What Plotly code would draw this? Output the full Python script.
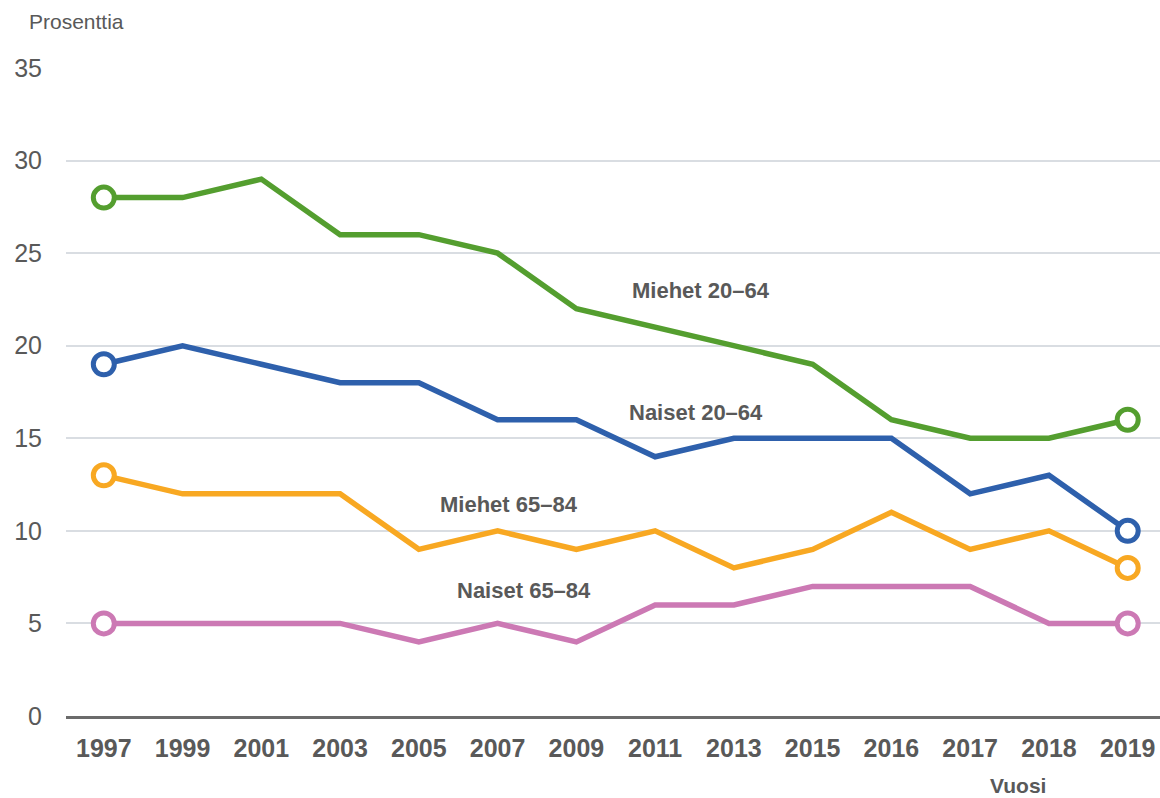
import plotly.graph_objects as go

# vuodet (kategoria-akseli)
years = ["1997", "1999", "2001", "2003", "2005", "2007", "2009",
         "2011", "2013", "2015", "2016", "2017", "2018", "2019"]

miehet_20_64 = [28, 28, 29, 26, 26, 25, 22, 21, 20, 19, 16, 15, 15, 16]
naiset_20_64 = [19, 20, 19, 18, 18, 16, 16, 14, 15, 15, 15, 12, 13, 10]
miehet_65_84 = [13, 12, 12, 12, 9, 10, 9, 10, 8, 9, 11, 9, 10, 8]
naiset_65_84 = [5, 5, 5, 5, 4, 5, 4, 6, 6, 7, 7, 7, 5, 5]

series = [
    ("Miehet 20–64", miehet_20_64, "rgb(84,158,47)"),
    ("Naiset 20–64", naiset_20_64, "rgb(46,96,172)"),
    ("Miehet 65–84", miehet_65_84, "rgb(248,168,34)"),
    ("Naiset 65–84", naiset_65_84, "rgb(204,121,180)"),
]

# label positions (category index, value)
labels = {
    "Miehet 20–64": (7.58, 23.0),
    "Naiset 20–64": (7.52, 16.4),
    "Miehet 65–84": (5.15, 11.45),
    "Naiset 65–84": (5.33, 6.8),
}

FONT = "Liberation Sans, Arial"
GREY = "#595959"

W, H = 1160, 798
ml, mr, mt, mb = 66, 0, 68, 82

idx = list(range(len(years)))
fig = go.Figure()

for name, vals, color in series:
    fig.add_trace(go.Scatter(
        x=idx, y=vals, mode="lines", name=name,
        line=dict(color=color, width=5.5),
        showlegend=False, hoverinfo="skip",
    ))

# avoimet ympyrät ensimmäiselle ja viimeiselle vuodelle
for name, vals, color in series:
    fig.add_trace(go.Scatter(
        x=[idx[0], idx[-1]], y=[vals[0], vals[-1]], mode="markers",
        marker=dict(size=21, color="white", line=dict(color=color, width=5)),
        showlegend=False, hoverinfo="skip",
    ))

for name, (lx, ly) in labels.items():
    fig.add_annotation(
        x=lx, y=ly, xref="x", yref="y", text=name, showarrow=False,
        font=dict(family=FONT, size=22, color=GREY, weight="bold"),
    )

def px_to_paper(px, py):
    return (px - ml) / (W - ml - mr), 1 - (py - mt) / (H - mt - mb)

x0, y0 = px_to_paper(27, 22)
fig.add_annotation(x=x0, y=y0, xref="paper", yref="paper", text="Prosenttia",
                   showarrow=False, xanchor="left", yanchor="middle",
                   font=dict(family=FONT, size=21, color=GREY))
x1, y1 = px_to_paper(1018, 785)
fig.add_annotation(x=x1, y=y1, xref="paper", yref="paper", text="Vuosi",
                   showarrow=False, xanchor="center", yanchor="middle",
                   font=dict(family=FONT, size=21, color=GREY, weight="bold"))

fig.update_layout(
    width=W, height=H,
    margin=dict(l=ml, r=mr, t=mt, b=mb),
    plot_bgcolor="white", paper_bgcolor="white",
    font=dict(family=FONT, color=GREY),
    xaxis=dict(
        range=[-0.48, 13.41], tickmode="array", tickvals=idx, ticktext=years,
        showgrid=False, zeroline=False, showline=True, linecolor="#6b6b6b", linewidth=3,
        ticks="outside", ticklen=8, tickcolor="rgba(0,0,0,0)",
        tickfont=dict(size=25, color=GREY, weight="bold"),
    ),
    yaxis=dict(
        range=[0, 35], tick0=0, dtick=5,
        showgrid=True, gridcolor="#d9dde2", gridwidth=2, zeroline=False,
        ticks="outside", ticklen=18, tickcolor="rgba(0,0,0,0)",
        tickfont=dict(size=25, color=GREY),
    ),
)

fig.write_html("out.html", config={"displayModeBar": False},
               post_script="document.body.style.margin='0';")
